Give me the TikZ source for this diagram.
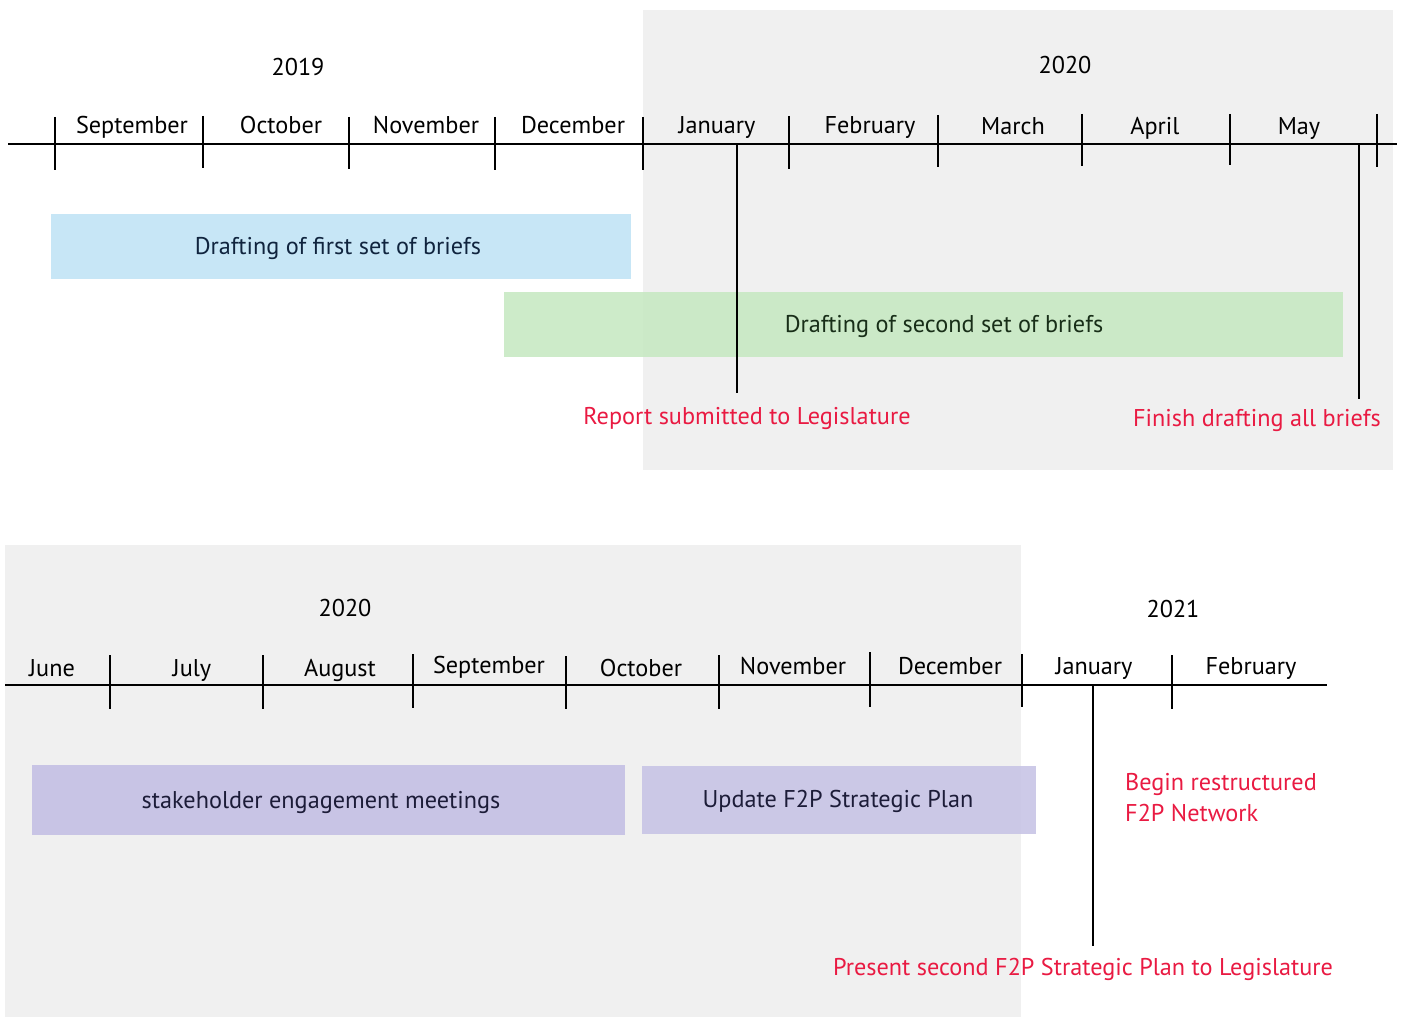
\documentclass[tikz,border=0pt]{standalone}
\usepackage{fontspec}
\setmainfont{PT Sans}
\usetikzlibrary{positioning}
\definecolor{panel}{RGB}{240,240,240}
\definecolor{skyfill}{RGB}{199,230,246}
\definecolor{leaffill}{RGB}{200,233,195}
\definecolor{lilacfill}{RGB}{200,196,229}
\definecolor{alert}{RGB}{233,26,66}
\definecolor{skyink}{RGB}{16,36,62}
\definecolor{leafink}{RGB}{24,46,24}
\definecolor{lilacink}{RGB}{28,28,56}
\newcommand{\tlfont}{\fontsize{13.8}{17.6}\selectfont}
\tikzset{>=latex}

\begin{document}
\begin{tikzpicture}[x=0.02cm, y=-0.02cm,
  axis/.style={line width=1.1pt},
  tick/.style={line width=0.9pt},
  marker/.style={line width=0.9pt},
  month/.style={anchor=base, font=\tlfont},
  year/.style={anchor=base, font=\tlfont},
  note/.style={anchor=base, text=alert, font=\tlfont},
  bartext/.style={anchor=base, font=\tlfont}]
  \useasboundingbox (0,0) rectangle (1401,1017);

  % PANELS
  \fill[panel] (643,10) rectangle (1393,470);
  \fill[panel] (5,545) rectangle (1021,1017);

  % TOP BARS
  \fill[skyfill] (51,214) rectangle (631,279);
  \fill[leaffill, fill opacity=0.9] (504,292) rectangle (1343,357);
  \node[bartext, text=skyink] (first) at (338,255) {Drafting of first set of briefs};
  \node[bartext, text=leafink] (second) at (944,332) {Drafting of second set of briefs};

  % TOP AXIS
  \draw[axis] (8,144) -- (1397,144);
  \foreach \x/\a/\b in {55/117/170, 203/116/168, 349/117/169, 495/117/170, 643/117/170,
                        789/116/169, 938/115/167, 1082/114/166, 1230/114/165, 1377/114/167}
    \draw[tick] (\x,\a) -- (\x,\b);
  \node[year] (y19) at (298,76) {2019};
  \node[year] (y20) at (1065,74) {2020};
  \node[month] (sep) at (132,133) {September};
  \node[month] (oct) at (281,133) {October};
  \node[month] (nov) at (426,133) {November};
  \node[month] (dec) at (573,133) {December};
  \node[month] (jan) at (717,133) {January};
  \node[month] (feb) at (870,133) {February};
  \node[month] (mar) at (1013,135) {March};
  \node[month] (apr) at (1155,135) {April};
  \node[month] (may) at (1299,135) {May};

  % TOP MILESTONES
  \coordinate (subTop) at (737,144);
  \coordinate (subEnd) at (737,393);
  \coordinate (finTop) at (1359,144);
  \coordinate (finEnd) at (1359,399);
  \draw[marker] (subTop) -- (subEnd);
  \draw[marker] (finTop) -- (finEnd);
  \node[note] (subtxt) at (747,424) {Report submitted to Legislature};
  \node[note] (fintxt) at (1257,426) {Finish drafting all briefs};

  % BOTTOM BARS
  \fill[lilacfill] (32,765) rectangle (625,835);
  \fill[lilacfill, fill opacity=0.9] (642,766) rectangle (1036,834);
  \node[bartext, text=lilacink] (meet) at (321,808) {stakeholder engagement meetings};
  \node[bartext, text=lilacink] (plan) at (838,807) {Update F2P Strategic Plan};

  % BOTTOM AXIS
  \draw[axis] (5,685) -- (1327,685);
  \foreach \x/\a/\b in {110/655/709, 263/655/709, 413/654/708, 566/656/709,
                        719/655/709, 870/652/707, 1022/654/707, 1172/655/709}
    \draw[tick] (\x,\a) -- (\x,\b);
  \node[year] (y20b) at (345,616) {2020};
  \node[year] (y21) at (1173,617) {2021};
  \node[month] (jun2) at (52,676) {June};
  \node[month] (jul2) at (192,676) {July};
  \node[month] (aug2) at (340,676) {August};
  \node[month] (sep2) at (489,673) {September};
  \node[month] (oct2) at (641,676) {October};
  \node[month] (nov2) at (793,674) {November};
  \node[month] (dec2) at (950,674) {December};
  \node[month] (jan2) at (1094,674) {January};
  \node[month] (feb2) at (1251,674) {February};

  % BOTTOM MILESTONES
  \coordinate (preTop) at (1093,685);
  \coordinate (preEnd) at (1093,946);
  \draw[marker] (preTop) -- (preEnd);
  \node[note, anchor=base west, align=left] (begtxt) at (1119,821) {Begin restructured\\F2P Network};
  \node[note] (pretxt) at (1083,975) {Present second F2P Strategic Plan to Legislature};
\end{tikzpicture}
\end{document}
